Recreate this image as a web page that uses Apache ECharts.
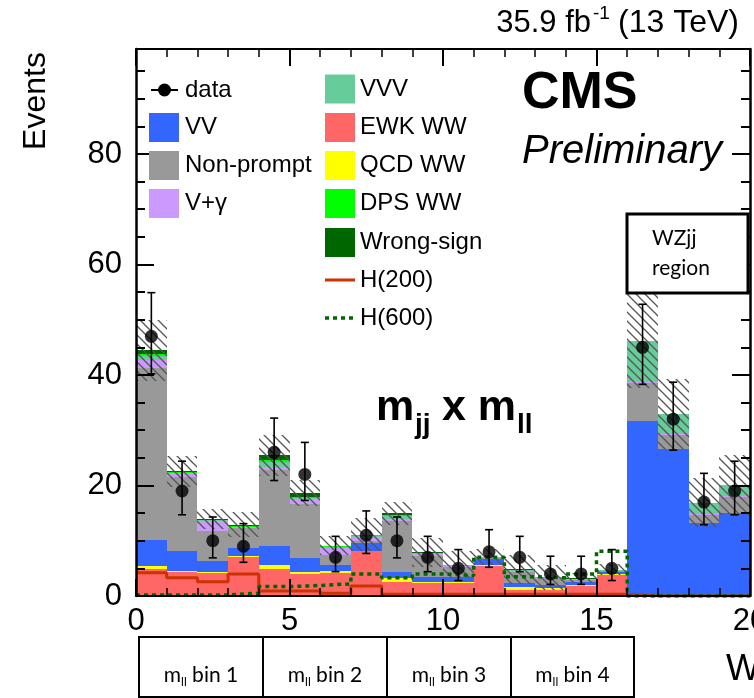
<!DOCTYPE html>
<html><head><meta charset="utf-8">
<script src="https://cdn.jsdelivr.net/npm/echarts@6/dist/echarts.min.js"></script>
<style>html,body{margin:0;padding:0;background:#fff}#c{width:754px;height:698px}</style>
</head><body><div id="c"></div>
<script>
// ---------- data (bins of width 1 from 0 to 20) ----------
const binLow     = [0,1,2,3,4,5,6,7,8,9,10,11,12,13,14,15,16,17,18,19];
const ewkWW      = [4.9,4.4,4.1,7.0,4.8,4.0,4.2,8.1,2.6,2.3,2.4,5.5,1.1,1.1,1.8,3.8,0,0,0,0];
const qcdWW      = [0.6,0.2,0.2,0.2,0.9,0.3,0.3,0.1,0.7,0.2,0.2,0.2,0.5,0.4,0.2,0.2,0,0,0,0];
const vv         = [4.7,3.5,2.1,1.4,3.4,2.6,1.2,1.4,1.0,1.0,0.9,1.0,0.7,0.5,0.6,0.4,31.6,26.6,13.2,15.0];
const nonPrompt  = [31.0,13.5,5.4,3.7,13.7,9.7,1.8,0.4,9.2,3.8,1.7,0.1,2.0,1.1,0.3,0.1,6.9,2.6,1.5,3.0];
const vGamma     = [1.5,0.6,1.7,0.1,0.6,0.9,1.2,0.7,0.4,0.3,0.2,0.1,0.2,0.1,0.1,0.05,0.2,0.1,0.2,0.1];
const vvv        = [0.8,0.1,0.2,0.1,0.9,0.3,0.2,0.2,0.6,0.2,0.2,0.1,0.2,0.1,0.1,0.1,7.5,3.6,2.0,2.0];
const dpsWW      = [0.3,0.1,0.1,0.1,0.3,0.2,0.1,0.1,0.1,0.05,0.05,0.05,0.05,0.05,0.05,0.05,0,0,0,0];
const wrongSign  = [0.7,0.2,0.2,0.3,0.9,0.6,0.1,0.1,0.4,0.05,0.05,0.05,0.05,0.05,0.05,0.05,0,0,0,0];
const bkgUnc     = [5.5,2.8,1.8,2.3,3.7,2.4,1.7,3.0,2.1,2.6,2.4,1.4,2.7,2.3,0.9,1.0,8.5,6.3,4.5,5.5];
const h200       = [4.2,3.3,2.6,4.0,0.9,0.9,0.5,1.8,0.3,0.3,0.3,0.3,0.3,0.3,0.3,0.3,0,0,0,0];
const h600       = [0.2,0.2,0.2,0.5,1.7,1.9,2.2,4.0,3.3,4.0,3.7,7.0,3.5,3.3,4.0,8.1,0,0,0,0];
const dataCounts = [47,19,10,9,26,22,7,11,10,7,5,8,7,4,4,5,45,32,17,19];
const dataErrLow = [6.8,4.3,3.1,2.9,5.1,4.7,2.6,3.3,3.1,2.6,2.2,2.8,2.6,1.9,1.9,2.2,6.7,5.6,4.1,4.3];
const dataErrHigh= [7.9,5.4,4.3,4.1,6.2,5.8,3.8,4.4,4.3,3.8,3.4,4.0,3.8,3.2,3.2,3.4,7.8,6.7,5.2,5.4];
const xTicks = [0,5,10,15,20];
const yTicks = [0,20,40,60,80];
const mllBoxes = ['1','2','3','4'];

const FONT = '"Liberation Sans", Arial, sans-serif';
const SANS2 = 'Lato, "Open Sans", sans-serif';
const binWidth = 1;

const stackDefs = [
  ['EWK WW', ewkWW, '#ff6666'],
  ['QCD WW', qcdWW, '#ffff00'],
  ['VV', vv, '#3366ff'],
  ['Non-prompt', nonPrompt, '#999999'],
  ['V+γ', vGamma, '#cc99ff'],
  ['VVV', vvv, '#66cc99'],
  ['DPS WW', dpsWW, '#00ff00'],
  ['Wrong-sign', wrongSign, '#006600']
];

function rectRenderer(fill){
  return function(params, api){
    const a = api.coord([api.value(0), api.value(2)]);
    const b = api.coord([api.value(1), api.value(3)]);
    const x0 = Math.round(a[0]), x1 = Math.round(b[0]);
    const y0 = Math.round(a[1]), y1 = Math.round(b[1]);
    return {type:'rect', shape:{x:x0, y:y1, width:x1-x0, height:y0-y1}, style:{fill: fill}};
  };
}

const series = [];
const cum = binLow.map(()=>0);
stackDefs.forEach(([name, vals, color]) => {
  const data = binLow.map((b,i) => { const lo = cum[i]; cum[i] += vals[i]; return [b, b+binWidth, lo, cum[i]]; });
  series.push({type:'custom', name, z:2, data, encode:{x:[0,1], y:[2,3]}, itemStyle:{color}, renderItem: rectRenderer(color)});
});

// hatch pattern for the uncertainty band
const hatch = document.createElement('canvas');
hatch.width = 9; hatch.height = 9;
(function(){
  const g = hatch.getContext('2d');
  g.strokeStyle = '#555'; g.lineWidth = 1.3;
  g.beginPath(); g.moveTo(0,0); g.lineTo(9,9); g.moveTo(-2,7); g.lineTo(2,11); g.moveTo(7,-2); g.lineTo(11,2); g.stroke();
})();
series.push({type:'custom', name:'unc', z:3, silent:true,
  data: binLow.map((b,i)=>[b, b+binWidth, Math.max(0,cum[i]-bkgUnc[i]), cum[i]+bkgUnc[i]]),
  encode:{x:[0,1], y:[2,3]},
  renderItem: rectRenderer({image: hatch, repeat:'repeat'})});

// step lines
function stepData(vals){ const d = binLow.map((b,i)=>[b, vals[i]]); d.push([binLow[binLow.length-1]+binWidth, vals[vals.length-1]]); return d; }
series.push({type:'line', name:'H(200)', z:4, step:'end', showSymbol:false, data: stepData(h200),
  lineStyle:{color:'#cc3300', width:3}, itemStyle:{color:'#cc3300'}});
series.push({type:'line', name:'H(600)', z:4, step:'end', showSymbol:false, data: stepData(h600),
  lineStyle:{color:'#006600', width:3.5, type:[4,4]}, itemStyle:{color:'#006600'}});

// data error bars
series.push({type:'custom', name:'dataErr', z:5, silent:true,
  data: binLow.map((b,i)=>[b+binWidth/2, dataCounts[i]-dataErrLow[i], dataCounts[i]+dataErrHigh[i]]),
  encode:{x:0, y:[1,2]},
  renderItem: function(params, api){
    const lo = api.coord([api.value(0), api.value(1)]);
    const hi = api.coord([api.value(0), api.value(2)]);
    const cap = 4, st = {stroke:'#000', lineWidth:1.6};
    return {type:'group', children:[
      {type:'line', shape:{x1:lo[0], y1:lo[1], x2:hi[0], y2:hi[1]}, style:st},
      {type:'line', shape:{x1:lo[0]-cap, y1:lo[1], x2:lo[0]+cap, y2:lo[1]}, style:st},
      {type:'line', shape:{x1:hi[0]-cap, y1:hi[1], x2:hi[0]+cap, y2:hi[1]}, style:st}
    ]};
  }});
series.push({type:'scatter', name:'data', z:6, symbol:'circle', symbolSize:13,
  data: binLow.map((b,i)=>[b+binWidth/2, dataCounts[i]]), itemStyle:{color:'#000'}});

// ---------- axes ----------
const tickStyle = {color:'#000', width:2};
function xAx(pos, labels){
  return {type:'value', position:pos, min:xTicks[0], max:xTicks[xTicks.length-1], interval:xTicks[1]-xTicks[0], z:10,
    axisLine:{show:true, onZero:false, lineStyle:{color:'#000', width:2}},
    axisTick:{show:true, inside:true, length:17, lineStyle:tickStyle},
    minorTick:{show:true, splitNumber:5, length:8, lineStyle:{color:'#000', width:1.5}},
    splitLine:{show:false}, minorSplitLine:{show:false},
    axisLabel:{show:labels, fontSize:31, color:'#000', fontFamily:FONT, margin:10}};
}
function yAx(pos, major, labels){
  return {type:'value', position:pos, min:0, max:99, interval: major ? yTicks[1]-yTicks[0] : 5, z:10,
    axisLine:{show: major, onZero:false, lineStyle:{color:'#000', width:2.5}},
    axisTick:{show:true, inside:true, length: major ? 18 : 9, lineStyle:tickStyle},
    splitLine:{show:false},
    axisLabel:{show:labels, fontSize:31, color:'#000', fontFamily:FONT, margin:14, showMaxLabel:false,
      formatter: v => (v % 20 === 0 ? String(v) : '')}};
}

// ---------- graphics: texts, legend, boxes ----------
const G = [];
function txt(x, y, text, o){
  G.push({type:'text', x, y, z:100, rotation:(o&&o.rot)||0,
    style:Object.assign({text, fill:'#000', fontFamily:FONT, fontSize:24, align:'left', verticalAlign:'middle'}, o||{})});
}
txt(36, 101, 'Events', {fontSize:32, align:'center', rot:Math.PI/2});
txt(591, 23, '35.9 fb', {fontSize:31, align:'right'});
txt(593, 14, '-1', {fontSize:19});
txt(618, 23, '(13 TeV)', {fontSize:32});
txt(522, 94, 'CMS', {fontSize:52, fontWeight:'bold'});
txt(522, 152, 'Preliminary', {fontSize:40, fontStyle:'italic'});
// m_jj x m_ll
txt(376, 408, 'm', {fontSize:43, fontWeight:'bold'});
txt(415, 425, 'jj', {fontSize:28, fontWeight:'bold'});
txt(442, 408, 'x m', {fontSize:43, fontWeight:'bold'});
txt(517, 425, 'll', {fontSize:28, fontWeight:'bold'});
// WZjj region box
G.push({type:'rect', z:100, shape:{x:627, y:214, width:121, height:79}, style:{fill:'#fff', stroke:'#000', lineWidth:3}});
txt(652, 238, 'WZjj', {fontSize:21, fontFamily:SANS2});
txt(652, 268, 'region', {fontSize:21, fontFamily:SANS2});
// mll bin boxes
const boxX = [139, 263, 387, 511, 634];
mllBoxes.forEach((lab, i) => {
  G.push({type:'rect', z:100, shape:{x:boxX[i], y:637, width:boxX[i+1]-boxX[i], height:60}, style:{fill:'none', stroke:'#000', lineWidth:2}});
  G.push({type:'text', z:100, x:(boxX[i]+boxX[i+1])/2, y:675,
    style:{text:'{a|m}{b|ll}{a| bin ' + lab + '}', align:'center', verticalAlign:'middle',
      rich:{a:{fontSize:21, fontFamily:SANS2, lineHeight:26, verticalAlign:'middle', fill:'#000'},
            b:{fontSize:12, fontFamily:SANS2, lineHeight:13, verticalAlign:'bottom', fill:'#000'}}}});
});
txt(726, 670, 'W', {fontSize:36});

// legend
const legL = [['data', null], ['VV', '#3366ff'], ['Non-prompt', '#999999'], ['V+γ', '#cc99ff']];
const legLy = [90, 127.5, 165.5, 203.5];
legL.forEach(([name, col], i) => {
  const y = legLy[i];
  if (col) G.push({type:'rect', z:100, shape:{x:149, y:y-14.5, width:30, height:29}, style:{fill:col}});
  else {
    G.push({type:'line', z:100, shape:{x1:151, y1:y, x2:178, y2:y}, style:{stroke:'#000', lineWidth:2}});
    G.push({type:'circle', z:100, shape:{cx:164.5, cy:y, r:6.5}, style:{fill:'#000'}});
  }
  txt(185, y, name);
});
const legR = [['VVV', '#66cc99'], ['EWK WW', '#ff6666'], ['QCD WW', '#ffff00'], ['DPS WW', '#00ff00'], ['Wrong-sign', '#006600'], ['H(200)', 'l'], ['H(600)', 'd']];
const legRy = [89, 127.5, 165.5, 203.5, 242.5, 280, 318];
legR.forEach(([name, col], i) => {
  const y = legRy[i];
  if (col === 'l') G.push({type:'line', z:100, shape:{x1:325, y1:y, x2:355, y2:y}, style:{stroke:'#cc3300', lineWidth:3}});
  else if (col === 'd') G.push({type:'line', z:100, shape:{x1:325, y1:y, x2:355, y2:y}, style:{stroke:'#006600', lineWidth:3.5, lineDash:[4,4]}});
  else G.push({type:'rect', z:100, shape:{x:325, y:y-14.5, width:30, height:29}, style:{fill:col}});
  txt(360, y, name);
});

const chart = echarts.init(document.getElementById('c'), null, {renderer:'canvas'});
chart.setOption({
  animation:false,
  backgroundColor:'#fff',
  grid:{left:136, top:49, width:614, height:547, containLabel:false, outerBoundsMode:'none'},
  xAxis:[xAx('bottom', true), xAx('top', false)],
  yAxis:[yAx('left', true, true), yAx('left', false, false), yAx('right', true, false), yAx('right', false, false)],
  series,
  graphic:{elements:G}
});
</script></body></html>
